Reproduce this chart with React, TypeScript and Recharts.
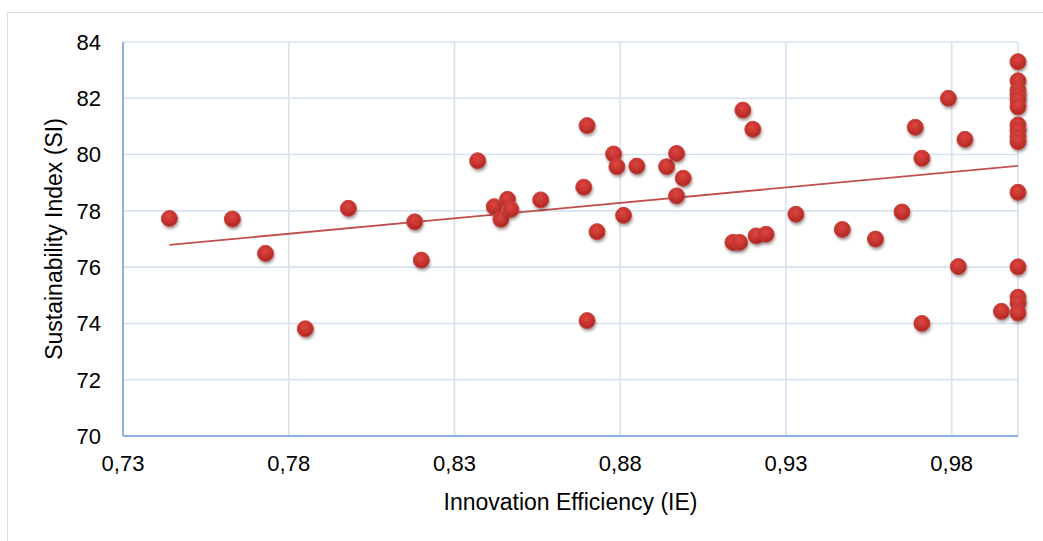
import { ScatterChart, Scatter, XAxis, YAxis, CartesianGrid, ReferenceLine } from 'recharts';

// Innovation Efficiency (x) vs Sustainability Index (y)
const IE = [
  0.744, 0.763, 0.773, 0.785, 0.798, 0.818, 0.82, 0.837, 0.842, 0.844,
  0.846, 0.847, 0.856, 0.869, 0.87, 0.87, 0.873, 0.878, 0.879, 0.881,
  0.885, 0.894, 0.897, 0.897, 0.899, 0.914, 0.916, 0.917, 0.92, 0.921,
  0.924, 0.933, 0.947, 0.957, 0.965, 0.969, 0.971, 0.971, 0.979, 0.982,
  0.984, 0.995,
  1.0, 1.0, 1.0, 1.0, 1.0, 1.0, 1.0, 1.0, 1.0, 1.0, 1.0, 1.0, 1.0, 1.0, 1.0,
];
const SI = [
  77.73, 77.71, 76.49, 73.81, 78.09, 77.61, 76.25, 79.78, 78.15, 77.7,
  78.41, 78.05, 78.39, 78.84, 81.03, 74.1, 77.26, 80.02, 79.57, 77.84,
  79.59, 79.57, 80.04, 78.53, 79.16, 76.88, 76.88, 81.58, 80.9, 77.11,
  77.17, 77.88, 77.34, 77.0, 77.96, 80.97, 79.87, 74.0, 82.0, 76.02,
  80.54, 74.43,
  83.3, 82.62, 82.29, 82.12, 81.94, 81.7, 81.05, 80.87, 80.63, 80.46, 78.66, 76.01, 74.93, 74.72, 74.37,
];

// linear trend line end points
const TREND_X = [0.744, 1.0];
const TREND_Y = [76.79, 79.6];

const X_TICKS = [0.73, 0.78, 0.83, 0.88, 0.93, 0.98];
const Y_TICKS = [70, 72, 74, 76, 78, 80, 82, 84];

const points = IE.map((x, i) => ({ x, y: SI[i] }));

const fmt = (v: number) => v.toFixed(2).replace('.', ',');

const Ball = (props: any) => {
  const { cx, cy } = props;
  if (cx == null || cy == null) return null;
  return (
    <g>
      <circle cx={cx + 1} cy={cy + 2.5} r={8} fill="rgba(40,20,20,0.45)" filter="url(#ballShadow)" />
      <circle cx={cx} cy={cy} r={8} fill="url(#ballFill)" stroke="#cc4540" strokeWidth={1} />
    </g>
  );
};

export default function App() {
  return (
    <div
      style={{
        position: 'absolute', left: 0, top: 0, width: 1043, height: 541,
        overflow: 'hidden', background: '#fff',
        fontFamily: '"Liberation Sans", Arial, sans-serif',
      }}
    >
      <svg width={0} height={0} style={{ position: 'absolute' }}>
        <defs>
          <radialGradient id="ballFill" cx="45%" cy="35%" r="65%">
            <stop offset="0%" stopColor="#dc4640" />
            <stop offset="70%" stopColor="#c0302b" />
            <stop offset="100%" stopColor="#a32420" />
          </radialGradient>
          <filter id="ballShadow" x="-50%" y="-50%" width="200%" height="200%">
            <feGaussianBlur stdDeviation="1.5" />
          </filter>
        </defs>
      </svg>
      <div
        style={{
          position: 'absolute', left: 7, top: 12, width: 1100, height: 600,
          border: '1.5px solid #d7e2f0',
        }}
      />
      <div style={{ position: 'absolute', left: 0, top: 0 }}>
        <ScatterChart width={1043} height={541} margin={{ top: 42, right: 25, bottom: 0, left: 0 }}>
          <CartesianGrid stroke="#d6e2f1" strokeWidth={1.6} />
          <XAxis
            type="number"
            dataKey="x"
            domain={[0.73, 1.0]}
            ticks={X_TICKS}
            tickFormatter={fmt}
            height={105}
            axisLine={{ stroke: '#8db3e2', strokeWidth: 2 }}
            tickLine={false}
            tickSize={0}
            tickMargin={19}
            tick={{ fill: '#000', fontSize: 22 }}
            label={{ value: 'Innovation Efficiency (IE)', position: 'insideBottom', offset: 31, fill: '#000', fontSize: 23 }}
          />
          <YAxis
            type="number"
            dataKey="y"
            domain={[70, 84]}
            ticks={Y_TICKS}
            width={123}
            axisLine={{ stroke: '#8db3e2', strokeWidth: 2 }}
            tickLine={false}
            tickSize={0}
            tickMargin={22}
            tick={{ fill: '#000', fontSize: 22 }}
            label={{
              value: 'Sustainability Index (SI)', angle: -90, position: 'insideLeft', offset: 54,
              fill: '#000', fontSize: 23, style: { textAnchor: 'middle' },
            }}
          />
          <ReferenceLine
            segment={[{ x: TREND_X[0], y: TREND_Y[0] }, { x: TREND_X[1], y: TREND_Y[1] }]}
            stroke="#c0504d"
            strokeWidth={1.8}
            ifOverflow="visible"
          />
          <Scatter data={points} shape={<Ball />} isAnimationActive={false} />
        </ScatterChart>
      </div>
    </div>
  );
}
